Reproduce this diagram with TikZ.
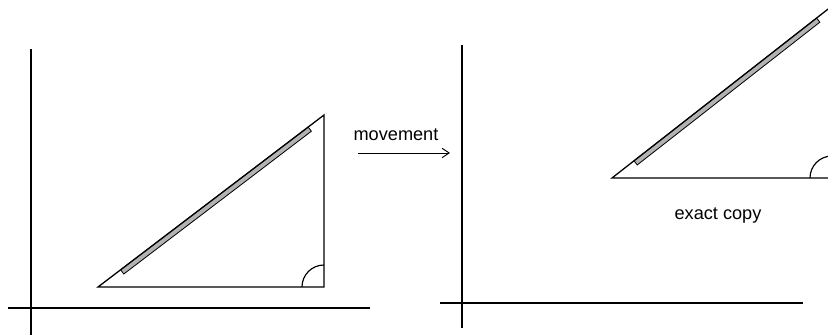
\documentclass[tikz,border=0pt]{standalone}
\usepackage{fontspec}
\setmainfont{Liberation Sans}
\usetikzlibrary{calc}
\usetikzlibrary{arrows.meta}

\tikzset{
    axisline/.style={line width=1pt},
    triline/.style={line width=1.1pt, line join=miter},
    rulerstrip/.style={draw=black, line width=0.7pt, fill=gray!60},
    lbl/.style={font=\fontsize{15.5}{18}\selectfont, inner sep=0pt},
}

\begin{document}
\begin{tikzpicture}[x=0.03cm, y=0.03cm]
    \useasboundingbox (0,0) rectangle (828,336);
    \clip (0,0) rectangle (828,336);

    % axes, before and after
    \draw[axisline] (31,1) -- (31,287);
    \draw[axisline] (8,28) -- (370,28);
    \draw[axisline] (462,8) -- (462,291);
    \draw[axisline] (440,33) -- (803,33);

    % the triangle and its copy
    \coordinate (LA) at (98,49);
    \coordinate (LB) at (324,49);
    \coordinate (LC) at (324,221);
    \coordinate (RA) at (612,158);
    \coordinate (RB) at (832,158);
    \coordinate (RC) at (832,330);

    \foreach \side in {L,R} {
        \coordinate (\side s1) at ($(\side A)!0.1!(\side C)$);
        \coordinate (\side s2) at ($(\side A)!0.93!(\side C)$);
        \draw[rulerstrip] (\side s1) -- (\side s2)
            -- ($(\side s2)!4.5pt!-90:(\side C)$)
            -- ($(\side s1)!4.5pt!90:(\side A)$) -- cycle;
        \draw[triline] (\side A) -- (\side B) -- (\side C) -- cycle;
        \draw[axisline] ($(\side B)+(-22,0)$) arc[start angle=180, end angle=90, radius=22];
    }

    % labels
    \coordinate (mvstart) at (358,183);
    \coordinate (mvend) at (450,183);
    \draw[line width=0.8pt, -{Straight Barb[length=6pt, width=8pt]}] (mvstart) -- (mvend);
    \node[lbl, anchor=base] (mvlabel) at (396,195) {movement};
    \node[lbl, anchor=base] (copylabel) at (718,116) {exact copy};
\end{tikzpicture}
\end{document}
